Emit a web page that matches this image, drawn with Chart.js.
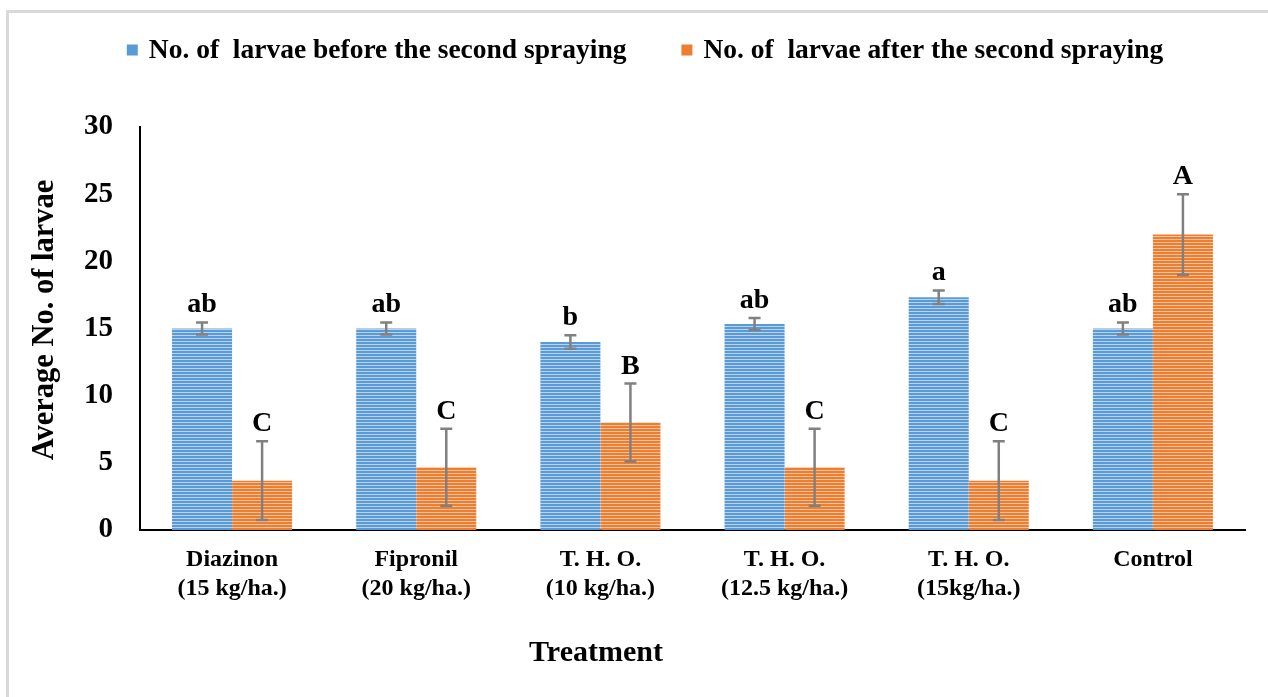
<!DOCTYPE html>
<html>
<head>
<meta charset="utf-8">
<script src="https://cdn.jsdelivr.net/npm/chart.js@4/dist/chart.umd.min.js"></script>
<style>
  html, body { margin: 0; padding: 0; background: #fff; overflow: hidden; }
  #frame { position: absolute; left: 6px; top: 10px; width: 1300px; height: 760px;
           border: 3px solid #d9d9d9; box-sizing: border-box; }
  #c { position: absolute; left: 0; top: 0; }
</style>
</head>
<body>
<div id="frame"></div>
<canvas id="c" width="1268" height="697"></canvas>
<script>
// Treatments (x categories)
const categories = [
  ['Diazinon', '(15 kg/ha.)'],
  ['Fipronil', '(20 kg/ha.)'],
  ['T. H. O.', '(10 kg/ha.)'],
  ['T. H. O.', '(12.5 kg/ha.)'],
  ['T. H. O.', '(15kg/ha.)'],
  'Control'
];
const seriesNames = [
  'No. of  larvae before the second spraying',
  'No. of  larvae after the second spraying'
];
// Mean number of larvae and standard error
const beforeValues = [15, 15, 14, 15.33, 17.33, 15];
const beforeErrors = [0.45, 0.45, 0.5, 0.45, 0.5, 0.45];
const afterValues = [3.67, 4.67, 8, 4.67, 3.67, 22];
const afterErrors = [2.93, 2.87, 2.9, 2.87, 2.93, 3];
// Significance letters
const beforeLetters = ['ab', 'ab', 'b', 'ab', 'a', 'ab'];
const afterLetters = ['C', 'C', 'B', 'C', 'C', 'A'];
const yTicks = [0, 5, 10, 15, 20, 25, 30];
const xTitle = 'Treatment';
const yTitle = 'Average No. of larvae';

const SERIF = '"Liberation Serif", "Times New Roman", serif';
const canvas = document.getElementById('c');
const ctx = canvas.getContext('2d');

// Horizontal striped fill for the bars
function stripes(base, light) {
  const p = document.createElement('canvas');
  p.width = 8; p.height = 3;
  const g = p.getContext('2d');
  g.fillStyle = base; g.fillRect(0, 0, 8, 3);
  g.fillStyle = light; g.fillRect(0, 2, 8, 1);
  return ctx.createPattern(p, 'repeat');
}
const blueFill = stripes('#5b9bd5', '#b8d3ef');
const orangeFill = stripes('#ed7d31', '#f9c39b');

// Error bars and letters above each bar
const annotate = {
  id: 'annotate',
  afterDatasetsDraw(chart) {
    const c = chart.ctx;
    const y = chart.scales.y;
    chart.data.datasets.forEach((ds, di) => {
      const meta = chart.getDatasetMeta(di);
      meta.data.forEach((bar, i) => {
        const v = ds.data[i], e = ds.errors[i];
        const yTop = y.getPixelForValue(v + e);
        const yBot = y.getPixelForValue(v - e);
        c.save();
        c.strokeStyle = '#808080';
        c.lineWidth = 2.5;
        c.beginPath();
        c.moveTo(bar.x, yTop); c.lineTo(bar.x, yBot);
        c.moveTo(bar.x - 6, yTop); c.lineTo(bar.x + 6, yTop);
        c.moveTo(bar.x - 6, yBot); c.lineTo(bar.x + 6, yBot);
        c.stroke();
        c.fillStyle = '#000';
        c.font = 'bold 28px ' + SERIF;
        c.textAlign = 'center';
        c.textBaseline = 'alphabetic';
        c.fillText(ds.letters[i], bar.x, yTop - 10);
        c.restore();
      });
    });
  }
};

// Legend row and axis titles
const decorations = {
  id: 'decorations',
  afterDraw(chart) {
    const c = chart.ctx;
    c.save();
    c.font = 'bold 27.5px ' + SERIF;
    c.textBaseline = 'middle';
    c.textAlign = 'left';
    const box = 11, gap = 11, spacing = 55;
    const items = chart.data.datasets.map(ds => ({ ds, w: c.measureText(ds.label).width }));
    const total = items.reduce((s, it) => s + box + gap + it.w, 0) + spacing * (items.length - 1);
    let x = 645 - total / 2;
    const cy = 50;
    items.forEach(it => {
      c.fillStyle = it.ds.legendColor;
      c.fillRect(x, cy - box / 2, box, box);
      x += box + gap;
      c.fillStyle = '#000';
      c.fillText(it.ds.label, x, cy + 1);
      x += it.w + spacing;
    });

    c.textAlign = 'center';
    c.font = 'bold 30px ' + SERIF;
    c.fillText(xTitle, 596, 653);

    c.translate(45, 320);
    c.rotate(-Math.PI / 2);
    c.font = 'bold 30.5px ' + SERIF;
    c.fillText(yTitle, 0, 0);
    c.restore();
  }
};

new Chart(ctx, {
  type: 'bar',
  data: {
    labels: categories,
    datasets: [
      { label: seriesNames[0], data: beforeValues, errors: beforeErrors, letters: beforeLetters,
        backgroundColor: blueFill, legendColor: '#5b9bd5', borderWidth: 0 },
      { label: seriesNames[1], data: afterValues, errors: afterErrors, letters: afterLetters,
        backgroundColor: orangeFill, legendColor: '#ed7d31', borderWidth: 0 }
    ]
  },
  options: {
    responsive: false,
    animation: false,
    devicePixelRatio: 1,
    layout: { padding: { left: 29, right: 23, top: 127, bottom: 26 } },
    datasets: { bar: { categoryPercentage: 0.652, barPercentage: 1 } },
    plugins: { legend: { display: false }, tooltip: { enabled: false } },
    scales: {
      x: {
        grid: { display: false, drawTicks: false },
        border: { display: true, color: '#000', width: 2 },
        ticks: { color: '#000', padding: 15, maxRotation: 0,
                 font: { family: SERIF, size: 24, weight: 'bold', lineHeight: 1.22 } },
        afterFit(s) { s.height = 141; }
      },
      y: {
        min: 0, max: 30,
        grid: { display: false, drawTicks: false },
        border: { display: true, color: '#000', width: 2 },
        afterBuildTicks(s) { s.ticks = yTicks.map(v => ({ value: v })); },
        ticks: { color: '#000', padding: 27,
                 font: { family: SERIF, size: 29, weight: 'bold' } },
        afterFit(s) { s.width = 111; }
      }
    }
  },
  plugins: [annotate, decorations]
});
</script>
</body>
</html>
